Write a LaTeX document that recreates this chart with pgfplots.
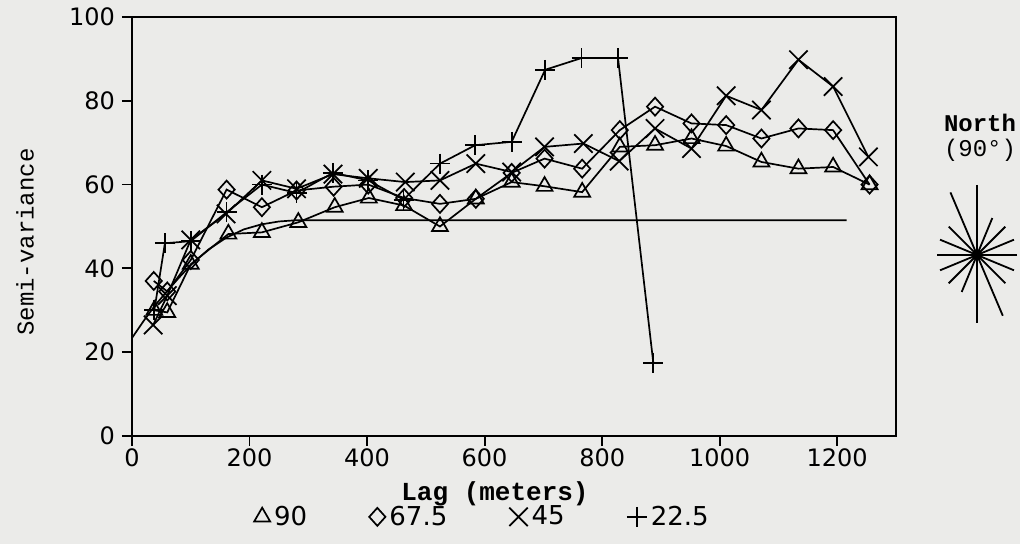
\documentclass[border=0pt]{standalone}
\usepackage{fontspec}
\setmainfont{DejaVu Sans}
\newfontfamily\typefont{Liberation Mono}
\usepackage{pgfplots}
\pgfplotsset{compat=1.18}
\definecolor{paper}{RGB}{235,235,233}
\newcommand\tickfont{\fontsize{12}{14}\selectfont}

\begin{document}
\begin{tikzpicture}
\fill[paper] (-66pt,-54pt) rectangle (444pt,218pt);
\begin{axis}[
    at={(0,0)}, anchor=south west, scale only axis,
    width=382pt, height=209.5pt,
    xmin=0, xmax=1300, ymin=0, ymax=100,
    xtick={0,200,...,1200}, ytick={0,20,...,100},
    tick pos=left, tick align=outside, major tick length=5pt,
    axis line style={line width=0.9pt},
    tick style={line width=0.9pt, black},
    xticklabel={\tickfont\pgfmathprintnumber[assume math mode=true,1000 sep={}]{\tick}},
    yticklabel={\tickfont\pgfmathprintnumber[assume math mode=true]{\tick}},
    xticklabel style={yshift=2pt},
    every axis plot/.append style={line width=0.85pt, black, mark options={solid, fill=none, line width=0.85pt}},
    legend columns=4,
    legend style={at={(0.46,-0.193)}, anchor=center, draw=none, fill=none,
      font=\fontsize{13}{15}\selectfont,
      /tikz/every even column/.append style={column sep=29pt}},
    legend image code/.code={\draw[#1] plot[only marks] coordinates {(0.25cm,0cm)};},
  ]

  % fitted model curve
  \addplot[no marks, forget plot] coordinates {
    (0,23.4) (20,27.5) (40,31.3) (60,34.6) (80,37.8) (100,40.8) (130,44.5)
    (160,47.3) (190,49.3) (220,50.5) (250,51.2) (280,51.5) (1216,51.5)};

  % 90 deg
  \addplot[mark=triangle, mark size=4.6pt] coordinates {
    (38,30) (60,29.5) (100,41) (164,48.2) (221,48.6) (283,51) (345,54.6)
    (403,56.8) (463,55) (524,50) (585,56.6) (646,60.6) (702,59.6) (766,58.2)
    (830,69) (890,69.4) (952,71) (1011,69.2) (1071,65.4) (1134,63.8)
    (1193,64.2) (1255,60)};
  \addlegendentry{90}

  % 67.5 deg
  \addplot[mark=diamond, mark size=4.5pt, mark options={xscale=1.2}] coordinates {
    (37,37) (60,34.5) (100,42) (161,58.8) (221,54.6) (280,58.6) (343,59.5)
    (402,60) (463,56.8) (524,55.4) (585,56.6) (646,62.8) (702,66.2) (766,63.8)
    (830,73) (890,78.6) (952,74.6) (1011,74.2) (1071,71) (1134,73.4)
    (1193,73) (1255,60)};
  \addlegendentry{67.5}

  % 45 deg
  \addplot[mark=x, mark size=6.5pt] coordinates {
    (36,26.5) (60,33.5) (100,46.8) (160,53) (221,61) (280,59) (342,62.5)
    (402,61.5) (465,60.6) (524,61) (585,65) (646,63) (702,69) (768,69.8)
    (829,65.6) (890,73.4) (952,68.6) (1011,81.2) (1071,77.8) (1134,89.8)
    (1193,83.4) (1253,66.6)};
  \addlegendentry{45}

  % 22.5 deg
  \addplot[mark=+, mark size=5pt] coordinates {
    (38,30) (56,46) (100,46.5) (161,53.4) (221,60) (280,58) (342,62.8)
    (402,61) (462,56.4) (524,65) (584,69.4) (646,70.2) (703,87.4) (765,90.2)
    (827,90.2) (887,17.5)};
  \addlegendentry{22.5}
\end{axis}

% axis titles
\node[font=\typefont\bfseries\fontsize{13}{15}\selectfont] at (181.5pt,-29pt) {Lag (meters)};
\node[font=\typefont\fontsize{12}{14}\selectfont, rotate=90] at (-53.5pt,97pt) {Semi-variance};

% direction rose
\node[font=\typefont\bfseries\fontsize{12}{14}\selectfont] at (424pt,156.5pt) {North};
\node[font=\typefont\fontsize{12}{14}\selectfont] at (424pt,143pt) {(90°)};
\begin{scope}[shift={(422.5pt,90.5pt)}, line width=0.9pt]
  \foreach \a in {0,22.5,45,67.5,135,157.5}
    \draw (\a:20pt) -- (\a+180:20pt);
  \draw (0,35pt) -- (0,-34pt);
  \draw (113:34pt) -- (293:33pt);
  \fill (0,0) circle (2.6pt);
\end{scope}

\pgfresetboundingbox
\path[use as bounding box] (-66pt,-54pt) rectangle (444pt,218pt);
\end{tikzpicture}
\end{document}
